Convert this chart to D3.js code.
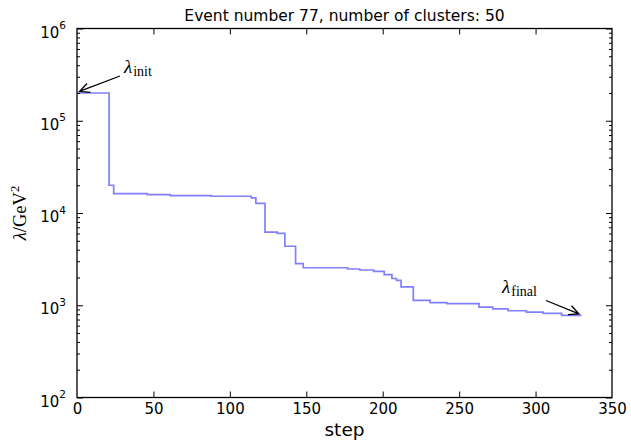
<!DOCTYPE html>
<html>
<head>
<meta charset="utf-8">
<script src="https://cdn.jsdelivr.net/npm/d3@7"></script>
<style>
  html, body { margin: 0; padding: 0; background: #fff; }
  svg { display: block; }
  .tick text { font-family: "DejaVu Sans", sans-serif; font-size: 15px; fill: #000; }
  .domain { display: none; }
  .tick line { stroke: #000; stroke-width: 1; }
</style>
</head>
<body>
<svg id="chart" width="631" height="440"></svg>
<script>
// Regularisation scale lambda after each clustering step (step function)
const steps   = [0, 21, 24, 46, 61, 88, 114, 117, 123, 131, 136, 143, 148, 177, 185, 194, 201, 206, 209, 212, 220, 231, 242, 263, 272, 282, 294, 305, 317, 330];
const lambdas = [2.0e5, 2.0e4, 1.62e4, 1.58e4, 1.54e4, 1.52e4, 1.46e4, 1.27e4, 6.2e3, 6.0e3, 4.36e3, 2.83e3, 2.55e3, 2.47e3, 2.41e3, 2.33e3, 2.15e3, 1.95e3, 1.86e3, 1.58e3, 1.13e3, 1.07e3, 1.04e3, 955, 915, 872, 842, 818, 775, 775];

const xTicks = [0, 50, 100, 150, 200, 250, 300, 350];
const yExponents = [2, 3, 4, 5, 6];
const title = "Event number 77, number of clusters: 50";

const svg = d3.select("#chart");
const margin = { left: 77, right: 19, top: 28.5, bottom: 42.5 };
const W = 631, H = 440;
const innerW = W - margin.left - margin.right;
const innerH = H - margin.top - margin.bottom;

const x = d3.scaleLinear().domain([0, 350]).range([margin.left, margin.left + innerW]);
const y = d3.scaleLog().domain([1e2, 1e6]).range([margin.top + innerH, margin.top]);

const data = steps.map((s, i) => ({ s, v: lambdas[i] }));

// minor log ticks 2..9 x 10^k
const minor = [];
for (let e = 2; e < 6; e++) for (let m = 2; m <= 9; m++) minor.push(m * Math.pow(10, e));
const major = yExponents.map(e => Math.pow(10, e));

// step curve
svg.append("path")
  .datum(data)
  .attr("fill", "none")
  .attr("stroke", "rgb(128,128,255)")
  .attr("stroke-width", 1.7)
  .attr("d", d3.line().x(d => x(d.s)).y(d => y(d.v)).curve(d3.curveStepAfter));

// axes (ticks pointing inward on all four sides)
const axBottom = svg.append("g").attr("transform", `translate(0,${margin.top + innerH})`)
  .call(d3.axisBottom(x).tickValues(xTicks).tickSize(-6).tickPadding(6).tickFormat(d3.format("d")));
axBottom.selectAll(".tick line").filter(d => d === 0 || d === 350).remove();

svg.append("g").attr("transform", `translate(0,${margin.top})`)
  .call(d3.axisTop(x).tickValues(xTicks.slice(1, -1)).tickSize(-6).tickFormat(""));

const axLeft = svg.append("g").attr("transform", `translate(${margin.left},0)`)
  .call(d3.axisLeft(y).tickValues(major).tickSize(-6).tickPadding(11).tickFormat(""));
svg.append("g").attr("transform", `translate(${margin.left},0)`)
  .call(d3.axisLeft(y).tickValues(minor).tickSize(-3).tickFormat(""));
svg.append("g").attr("transform", `translate(${margin.left + innerW},0)`)
  .call(d3.axisRight(y).tickValues(major).tickSize(-6).tickFormat(""));
svg.append("g").attr("transform", `translate(${margin.left + innerW},0)`)
  .call(d3.axisRight(y).tickValues(minor).tickSize(-3).tickFormat(""));

// 10^k labels
axLeft.selectAll(".tick text").each(function(d, i) {
  const t = d3.select(this).attr("dy", null).attr("y", 8.5).text(null);
  t.append("tspan").text("10");
  t.append("tspan").attr("dy", -8.5).style("font-size", "10.5px").text(yExponents[i]);
});

// frame
svg.append("rect")
  .attr("x", margin.left).attr("y", margin.top)
  .attr("width", innerW).attr("height", innerH)
  .attr("fill", "none").attr("stroke", "#000").attr("stroke-width", 1.3);

// title
svg.append("text")
  .attr("x", margin.left + innerW / 2).attr("y", 21)
  .attr("text-anchor", "middle")
  .style("font-family", "DejaVu Sans, sans-serif").style("font-size", "15.5px")
  .text(title);

// x label
svg.append("text")
  .attr("x", margin.left + innerW / 2).attr("y", 436)
  .attr("text-anchor", "middle")
  .style("font-family", "DejaVu Sans, sans-serif").style("font-size", "18.5px")
  .text("step");

// y label
const yl = svg.append("text")
  .attr("transform", `translate(25.5,${margin.top + innerH / 2}) rotate(-90)`)
  .attr("text-anchor", "middle")
  .style("font-family", "Liberation Serif, serif").style("font-size", "18.5px");
yl.append("tspan").style("font-style", "italic").text("λ");
yl.append("tspan").text("/GeV");
yl.append("tspan").attr("dy", -7).style("font-size", "12.5px").text("2");

// annotations with open arrowheads
function arrow(x1, y1, x2, y2) {
  const a = Math.atan2(y2 - y1, x2 - x1), L = 11, sp = 0.45;
  svg.append("path")
    .attr("d", `M${x1},${y1}L${x2},${y2}` +
      `M${x2 - L * Math.cos(a - sp)},${y2 - L * Math.sin(a - sp)}L${x2},${y2}` +
      `L${x2 - L * Math.cos(a + sp)},${y2 - L * Math.sin(a + sp)}`)
    .attr("fill", "none").attr("stroke", "#000").attr("stroke-width", 1.3);
}
function lambdaLabel(px, py, sub) {
  const t = svg.append("text").attr("x", px).attr("y", py)
    .style("font-family", "Liberation Serif, serif").style("font-size", "19px");
  t.append("tspan").style("font-style", "italic").text("λ");
  t.append("tspan").attr("dy", 3.5).attr("dx", 1).style("font-size", "14px").text(sub);
}

const first = data[0], last = data[data.length - 1];
arrow(120, 76, x(first.s) + 2.5, y(first.v) - 1.5);
lambdaLabel(124, 72.5, "init");
arrow(546, 300.5, x(last.s) - 2.5, y(last.v) - 1.5);
lambdaLabel(502, 292.5, "final");
</script>
</body>
</html>
